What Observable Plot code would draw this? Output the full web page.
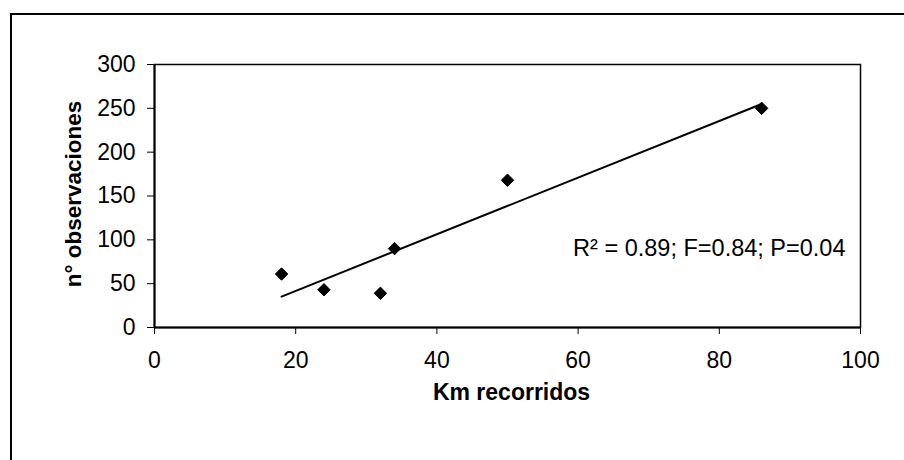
<!DOCTYPE html>
<html>
<head>
<meta charset="utf-8">
<script src="https://cdn.jsdelivr.net/npm/d3@7"></script>
<script src="https://cdn.jsdelivr.net/npm/@observablehq/plot@0.6"></script>
<style>
  html, body { margin: 0; padding: 0; background: #fff; }
  #wrap { position: relative; width: 904px; height: 460px; overflow: hidden; }
  #border { position: absolute; left: 10px; top: 13px; width: 1000px; height: 1000px;
            border-left: 2px solid #000; border-top: 2px solid #000; pointer-events: none; }
  #chart { position: absolute; left: 0; top: 0; }
</style>
</head>
<body>
<div id="wrap"><div id="chart"></div><div id="border"></div></div>
<script>
// Data
const kmRecorridos = [18, 24, 32, 34, 50, 86];
const observaciones = [61, 43, 39, 90, 168, 250];
const xTicks = [0, 20, 40, 60, 80, 100];
const yTicks = [0, 50, 100, 150, 200, 250, 300];
const xTitle = "Km recorridos";
const yTitle = "n° observaciones";
const statsLabel = "R² = 0.89; F=0.84; P=0.04";

const points = kmRecorridos.map((x, i) => ({x, y: observaciones[i]}));
const font = "'Liberation Sans', Arial, Helvetica, sans-serif";

const chart = Plot.plot({
  width: 904,
  height: 460,
  marginLeft: 154,
  marginRight: 44,
  marginTop: 64,
  marginBottom: 133,
  style: {fontFamily: font, fontSize: "23px", color: "#000", background: "#fff", overflow: "visible"},
  x: {domain: [0, 100], ticks: xTicks, tickSize: 7, tickPadding: 17, label: null},
  y: {domain: [0, 300], ticks: yTicks, tickSize: 7, tickPadding: 12, label: null},
  marks: [
    Plot.frame({stroke: "#000", strokeWidth: 1.5}),
    Plot.ruleX([0], {stroke: "#000", strokeWidth: 2}),
    Plot.ruleY([0], {stroke: "#000", strokeWidth: 2}),
    Plot.linearRegressionY(points, {x: "x", y: "y", ci: 0, stroke: "#000", strokeWidth: 2}),
    Plot.dot(points, {x: "x", y: "y", symbol: "diamond2", r: 5.6, fill: "#000", stroke: "#000", strokeWidth: 1}),
    Plot.text([statsLabel], {text: d => d, frameAnchor: "right", textAnchor: "end", dx: -15, dy: 52,
      fontSize: 23.5, fontFamily: font, fill: "#000"}),
    Plot.text([xTitle], {text: d => d, frameAnchor: "bottom", textAnchor: "middle", dx: 4, dy: 72,
      fontSize: 23, fontWeight: "bold", fontFamily: font, fill: "#000"}),
    Plot.text([yTitle], {text: d => d, frameAnchor: "left", textAnchor: "middle", rotate: -90, dx: -81, dy: -2,
      fontSize: 22.5, fontWeight: "bold", fontFamily: font, fill: "#000"})
  ]
});
document.getElementById("chart").appendChild(chart);
</script>
</body>
</html>
